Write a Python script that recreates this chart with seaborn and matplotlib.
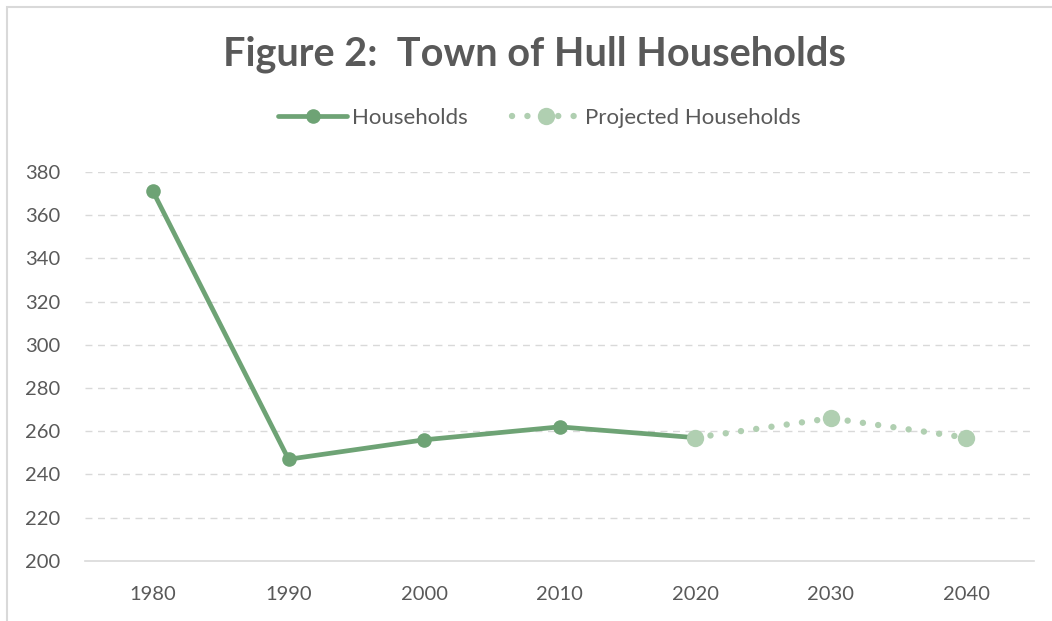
import matplotlib
matplotlib.use("Agg")
import matplotlib.pyplot as plt
import seaborn as sns
import pandas as pd
from matplotlib.patches import Rectangle

years = [1980, 1990, 2000, 2010, 2020]
households = [371, 247, 256, 262, 257]
proj_years = [2020, 2030, 2040]
proj_households = [257, 266, 257]
x_ticks = [1980, 1990, 2000, 2010, 2020, 2030, 2040]
y_ticks = [200, 220, 240, 260, 280, 300, 320, 340, 360, 380]

sns.set_theme(style="white")
plt.rcParams['font.family'] = ['Lato', 'DejaVu Sans']

TEXT = "#595959"
SOLID = "#6EA375"
LIGHT = "#B0CFB1"

fig = plt.figure(figsize=(10.52, 6.21), dpi=100)
ax = fig.add_axes([0.081, 0.097, 0.902, 0.626])

df1 = pd.DataFrame({"year": years, "value": households})
df2 = pd.DataFrame({"year": proj_years, "value": proj_households})

sns.lineplot(data=df1, x="year", y="value", ax=ax, color=SOLID, linewidth=3.4,
             marker="o", markersize=10.5, markeredgewidth=0, label="Households",
             solid_capstyle="round", zorder=3)
sns.lineplot(data=df2, x="year", y="value", ax=ax, color=LIGHT, linewidth=4.6,
             linestyle=(0, (0.01, 2.4)), dash_capstyle="round",
             marker="o", markersize=12.5, markeredgewidth=0,
             label="Projected Households", zorder=4)

ax.set_xlim(1975, 2045)
ax.set_ylim(200, 380)
ax.set_xticks(x_ticks)
ax.set_xticklabels([str(t) for t in x_ticks])
ax.set_yticks(y_ticks)
ax.set_xlabel("")
ax.set_ylabel("")
ax.tick_params(axis="both", colors=TEXT, labelsize=14.5, length=0)
ax.tick_params(axis="x", pad=18)
ax.tick_params(axis="y", pad=18)

for y in y_ticks[1:]:
    ax.axhline(y, color="#D9D9D9", linewidth=1, linestyle=(0, (5, 4)), zorder=1)
for s in ["top", "right", "left"]:
    ax.spines[s].set_visible(False)
ax.spines["bottom"].set_color("#D9D9D9")
ax.spines["bottom"].set_linewidth(1.2)

fig.text(0.508, 0.912, "Figure 2:  Town of Hull Households", ha="center", va="center",
         fontsize=28.5, fontweight="bold", color=TEXT)

leg = ax.legend(loc="center", bbox_to_anchor=(0.513, 0.81), bbox_transform=fig.transFigure,
                ncol=2, frameon=False, fontsize=16, handlelength=3.1, columnspacing=2.0,
                handletextpad=0.2, labelcolor=TEXT)

fig.patches.append(Rectangle((7 / 1052, -0.1), 1.2, 1 - 7 / 621 + 0.1, transform=fig.transFigure,
                             fill=False, edgecolor="#D9D9D9", linewidth=1.5))

fig.savefig("out.png", dpi=100, facecolor="white")
